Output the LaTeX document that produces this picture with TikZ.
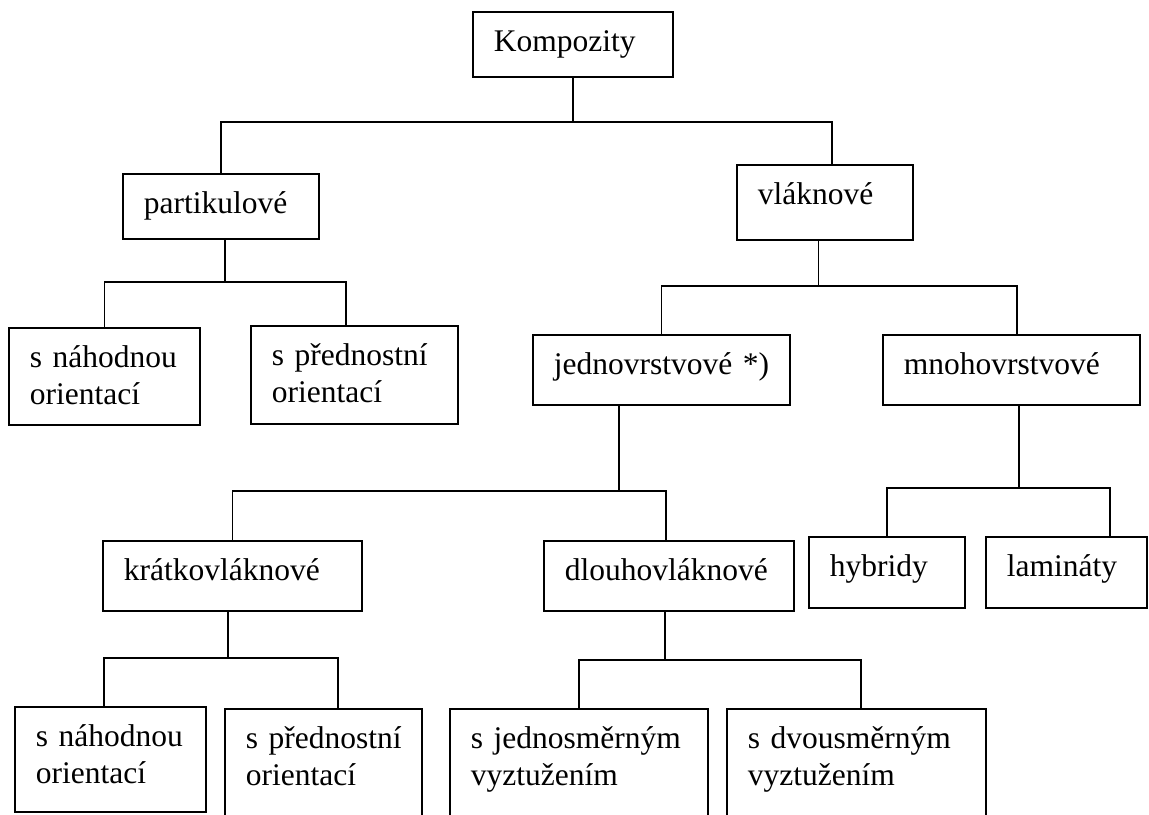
\documentclass[tikz,border=0pt]{standalone}
\usepackage{fontspec}
\setmainfont{Liberation Serif}
\usetikzlibrary{calc,positioning}
\newcommand\treefont{\fontsize{15.75pt}{18.5pt}\selectfont\hyphenpenalty=10000}
\tikzset{
  box/.style 2 args={draw,line width=0.9pt,anchor=north west,align=left,
    font=\treefont,inner xsep=10.5pt,inner ysep=0pt,
    text height=20pt,text width=#1,text depth=#2},
  link/.style={line width=0.8pt}
}

\begin{document}
\begin{tikzpicture}[x=0.5pt,y=-0.5pt]
  \useasboundingbox (0,0) rectangle (1149,814);
  % boxes
  \node [box={79pt}{12.5pt}] (komp) at (472,11) {Kompozity};
  \node [box={77pt}{12.5pt}] (part) at (122,173) {partikulové};
  \node [box={67pt}{17.5pt}] (vlak) at (736,164) {vláknové};
  \node [box={74.5pt}{28.5pt}] (partnah) at (8,327)
    {s~náhodnou\\orientací};
  \node [box={82.5pt}{29pt}] (partpred) at (250,325)
    {s~přednostní\\orientací};
  \node [box={107.5pt}{15pt}] (jedno) at (532,334) {jednovrstvové~*)};
  \node [box={107.5pt}{15pt}] (mnoho) at (882,334) {mnohovrstvové};
  \node [box={108.5pt}{15pt}] (kratko) at (102,540) {krátkovláknové};
  \node [box={104pt}{15pt}] (dlouho) at (543,540) {dlouhovláknové};
  \node [box={57pt}{15.5pt}] (hybr) at (808,536) {hybridy};
  \node [box={59.5pt}{15.5pt}] (lamin) at (985,536) {lamináty};
  \node [box={74.5pt}{32.5pt}] (kratnah) at (14,706)
    {s~náhodnou\\orientací};
  \node [box={77.5pt}{45pt}] (kratpred) at (224,708)
    {s~přednostní\\orientací};
  \node [box={108pt}{45pt}] (dlouuni) at (449,708)
    {s~jednosměrným\\vyztužením};
  \node [box={108.5pt}{45pt}] (dloubi) at (726,708)
    {s~dvousměrným\\vyztužením};
  % kompozity
  \coordinate (bus1) at (573,122);
  \draw [link] (bus1 |- komp.south) -- (bus1);
  \draw [link]
    (part.north)
    |- (bus1)
    -| ([xshift=3.5pt]vlak.north)
  ;
  % partikulove
  \coordinate (bus2) at (225,282);
  \draw [link] (bus2 |- part.south) -- (bus2);
  \draw [link]
    (partnah.north)
    |- (bus2)
    -| ([xshift=-4.25pt]partpred.north)
  ;
  % vlaknove
  \coordinate (bus3) at (818.5,286);
  \draw [link] (bus3 |- vlak.south) -- (bus3);
  \draw [link]
    (jedno.north)
    |- (bus3)
    -| ([xshift=2.75pt]mnoho.north)
  ;
  % jednovrstvove
  \coordinate (bus4) at (619,491);
  \draw [link] (bus4 |- jedno.south) -- (bus4);
  \draw [link]
    (kratko.north)
    |- (bus4)
    -| ([xshift=-1.5pt]dlouho.north)
  ;
  % mnohovrstvove
  \coordinate (bus5) at (1019,488);
  \draw [link] (bus5 |- mnoho.south) -- (bus5);
  \draw [link]
    (hybr.north)
    |- (bus5)
    -| ([xshift=21.75pt]lamin.north)
  ;
  % kratkovlaknove
  \coordinate (bus6) at (228,658);
  \draw [link] (bus6 |- kratko.south) -- (bus6);
  \draw [link]
    ([xshift=-3.25pt]kratnah.north)
    |- (bus6)
    -| ([xshift=7.25pt]kratpred.north)
  ;
  % dlouhovlaknove
  \coordinate (bus7) at (665,660);
  \draw [link] (bus7 |- dlouho.south) -- (bus7);
  \draw [link]
    (dlouuni.north)
    |- (bus7)
    -| ([xshift=2.25pt]dloubi.north)
  ;
\end{tikzpicture}
\end{document}
